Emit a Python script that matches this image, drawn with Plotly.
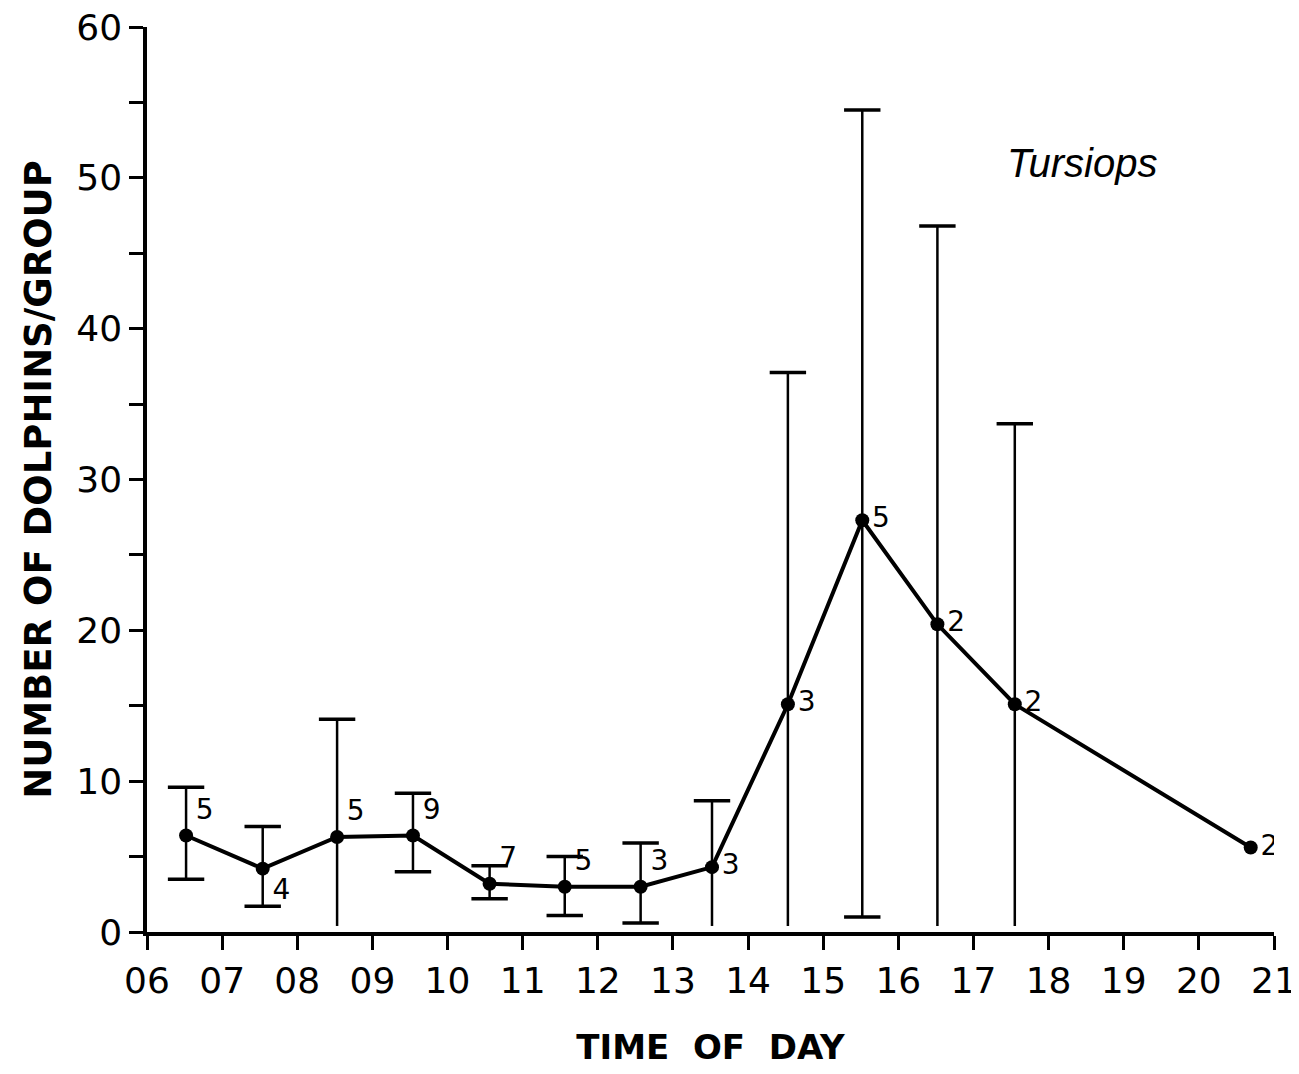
import plotly.graph_objects as go

# group size by hour of day (Tursiops)
hours = [6.52, 7.54, 8.53, 9.54, 10.56, 11.56, 12.57, 13.52, 14.53, 15.52, 16.52, 17.55, 20.69]
mean_size = [6.4, 4.2, 6.3, 6.4, 3.2, 3.0, 3.0, 4.3, 15.1, 27.3, 20.4, 15.1, 5.6]
upper = [9.6, 7.0, 14.1, 9.2, 4.4, 5.0, 5.9, 8.7, 37.1, 54.5, 46.8, 33.7, None]
lower = [3.5, 1.7, 0.4, 4.0, 2.2, 1.1, 0.6, 0.4, 0.4, 1.0, 0.4, 0.4, None]
lower_capped = [True, True, False, True, True, True, True, False, False, True, False, False, False]
n_obs = ["5", "4", "5", "9", "7", "5", "3", "3", "3", "5", "2", "2", "2"]
label_pos = ["top right", "bottom right", "top right", "top right", "top right", "top right",
             "top right", "middle right", "middle right", "middle right", "middle right",
             "middle right", "middle right"]

x_ticks = list(range(6, 22))
x_ticktext = ["%02d" % h for h in x_ticks]

FONT = "DejaVu Sans"

fig = go.Figure()

# error bar stems
sx, sy = [], []
for h, lo, hi in zip(hours, lower, upper):
    if hi is None:
        continue
    sx += [h, h, None]
    sy += [lo, hi, None]
fig.add_trace(go.Scatter(x=sx, y=sy, mode="lines",
                         line=dict(color="black", width=2.5), hoverinfo="skip"))

# caps (some bottoms have none in the original)
cx, cy = [], []
for h, lo, hi, cap in zip(hours, lower, upper, lower_capped):
    if hi is None:
        continue
    cx.append(h)
    cy.append(hi)
    if cap:
        cx.append(h)
        cy.append(lo)
fig.add_trace(go.Scatter(x=cx, y=cy, mode="markers",
                         marker=dict(symbol="line-ew", size=26,
                                     line=dict(color="black", width=3.5)),
                         hoverinfo="skip"))

# mean line with sample sizes
fig.add_trace(go.Scatter(
    x=hours, y=mean_size, mode="lines+markers+text",
    line=dict(color="black", width=4),
    marker=dict(color="black", size=14),
    text=n_obs, textposition=label_pos,
    textfont=dict(family=FONT, size=28, color="black"),
))

fig.add_annotation(x=18.45, y=51.0, text="<i>Tursiops</i>", showarrow=False,
                   font=dict(family="Liberation Sans", size=40, color="black"))

# page body has an 8px margin, so the figure is a bit smaller than the window
fig.update_layout(
    width=1291, height=1066,
    margin=dict(l=139, r=25, t=19, b=142),
    plot_bgcolor="white", paper_bgcolor="white",
    showlegend=False,
    font=dict(family=FONT, color="black"),
    xaxis=dict(
        range=[6, 21], tickvals=x_ticks, ticktext=x_ticktext,
        ticks="outside", ticklen=14, tickwidth=2.5, tickcolor="black",
        showline=True, linecolor="black", linewidth=3.5,
        showgrid=False, zeroline=False, automargin=False,
        ticklabeloverflow="allow",
        tickfont=dict(size=36),
        title=dict(text="<b>TIME  OF  DAY</b>", font=dict(size=34), standoff=36),
    ),
    yaxis=dict(
        range=[0, 60], dtick=10,
        ticks="outside", ticklen=14, tickwidth=2.5, tickcolor="black",
        minor=dict(dtick=5, ticks="outside", ticklen=14, tickwidth=2.5, tickcolor="black"),
        showline=True, linecolor="black", linewidth=3.5,
        showgrid=False, zeroline=False, automargin=False,
        ticklabeloverflow="allow",
        tickfont=dict(size=36),
        title=dict(text="<b>NUMBER OF DOLPHINS/GROUP</b>", font=dict(size=37), standoff=14),
    ),
)

fig.write_html("out.html")
